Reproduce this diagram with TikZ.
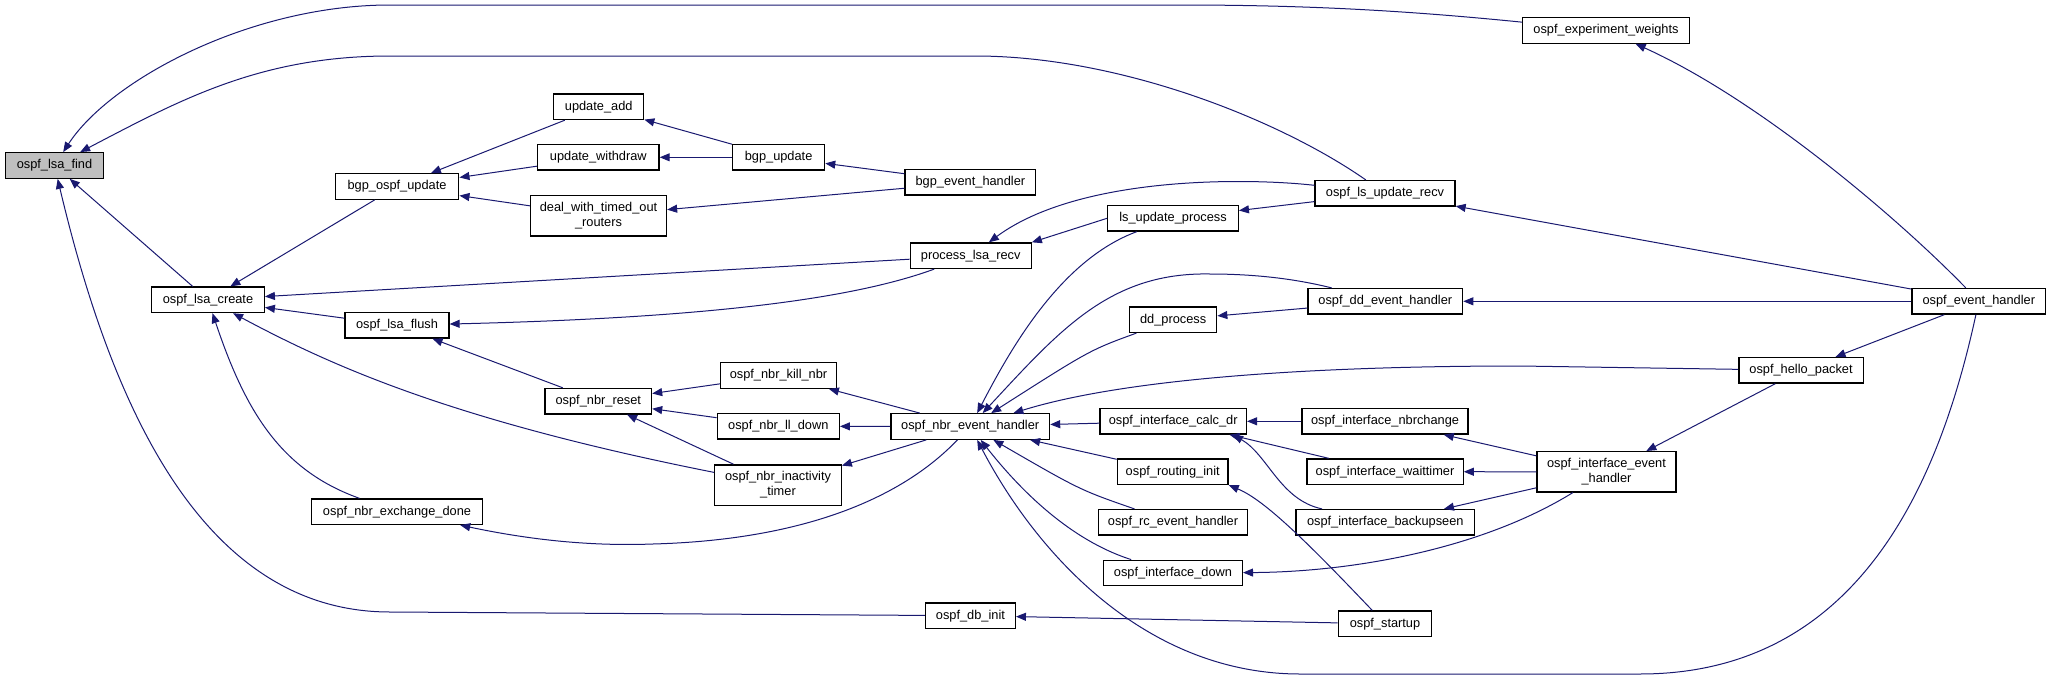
\documentclass[tikz,border=0pt]{standalone}
\usepackage{fontspec}
\setmainfont{Liberation Sans}
\usetikzlibrary{arrows.meta}
\definecolor{edgeblue}{HTML}{191970}
\definecolor{findgray}{HTML}{BFBFBF}
\begin{document}
\begin{tikzpicture}[x=1pt,y=-1pt,
  fn/.style={draw=black, line width=1.3pt, fill=white, inner sep=0pt, minimum height=25.5pt, align=center, font=\fontsize{12.8}{15}\selectfont},
  fn2/.style={fn, minimum height=40.3pt},
  call/.style={draw=edgeblue, line width=1pt, -{Triangle[length=10pt,width=8pt]}}]
\useasboundingbox (0,0) rectangle (2051,680);
% nodes
\node[fn, minimum width=98pt, fill=findgray] (find) at (54.5,165.5) {ospf\_lsa\_find};
\node[fn, minimum width=166.5pt] (expw) at (1606,30.5) {ospf\_experiment\_weights};
\node[fn, minimum width=140pt] (lsrecv) at (1385,193.3) {ospf\_ls\_update\_recv};
\node[fn, minimum width=90pt] (upadd) at (598.7,106.8) {update\_add};
\node[fn, minimum width=121.5pt] (upwd) at (598.3,157.3) {update\_withdraw};
\node[fn, minimum width=123.6pt] (bgpospf) at (397,186.5) {bgp\_ospf\_update};
\node[fn2, minimum width=136pt] (deal) at (598.5,215.8) {deal\_with\_timed\_out\\\_routers};
\node[fn, minimum width=92pt] (bgpupd) at (778.6,157.3) {bgp\_update};
\node[fn, minimum width=130.7pt] (bgpeh) at (970.4,182.3) {bgp\_event\_handler};
\node[fn, minimum width=130.6pt] (lsup) at (1173,218.3) {ls\_update\_process};
\node[fn, minimum width=121pt] (plr) at (970.7,255.7) {process\_lsa\_recv};
\node[fn, minimum width=112.5pt] (create) at (208,299.8) {ospf\_lsa\_create};
\node[fn, minimum width=104pt] (flush) at (397,325.3) {ospf\_lsa\_flush};
\node[fn, minimum width=87pt] (ddproc) at (1173.2,319.7) {dd\_process};
\node[fn, minimum width=154.7pt] (ddeh) at (1385.3,301.3) {ospf\_dd\_event\_handler};
\node[fn, minimum width=133.6pt] (ospfeh) at (1978.8,301.3) {ospf\_event\_handler};
\node[fn, minimum width=116pt] (kill) at (778.5,375.5) {ospf\_nbr\_kill\_nbr};
\node[fn, minimum width=106.5pt] (reset) at (598.3,401.2) {ospf\_nbr\_reset};
\node[fn, minimum width=122pt] (lldown) at (778.3,426.3) {ospf\_nbr\_ll\_down};
\node[fn, minimum width=158.7pt] (nbreh) at (970.2,426.5) {ospf\_nbr\_event\_handler};
\node[fn, minimum width=146.4pt] (calcdr) at (1173.2,421.3) {ospf\_interface\_calc\_dr};
\node[fn, minimum width=166pt] (nbrchg) at (1385,421.3) {ospf\_interface\_nbrchange};
\node[fn, minimum width=124.3pt] (hello) at (1801,370.3) {ospf\_hello\_packet};
\node[fn2, minimum width=126.5pt] (inact) at (778,485) {ospf\_nbr\_inactivity\\\_timer};
\node[fn, minimum width=110.7pt] (rinit) at (1172.7,471.8) {ospf\_routing\_init};
\node[fn, minimum width=156.3pt] (wait) at (1385,471.7) {ospf\_interface\_waittimer};
\node[fn2, minimum width=139pt] (ifeh) at (1606.5,471.8) {ospf\_interface\_event\\\_handler};
\node[fn, minimum width=149pt] (rc) at (1173,522.3) {ospf\_rc\_event\_handler};
\node[fn, minimum width=178.6pt] (backup) at (1385.3,522.3) {ospf\_interface\_backupseen};
\node[fn, minimum width=171pt] (exch) at (397,511.7) {ospf\_nbr\_exchange\_done};
\node[fn, minimum width=138.7pt] (down) at (1173,573) {ospf\_interface\_down};
\node[fn, minimum width=89.8pt] (dbinit) at (970.4,615.7) {ospf\_db\_init};
\node[fn, minimum width=93.3pt] (startup) at (1385,623.8) {ospf\_startup};
% edges
\draw[call] (expw) .. controls (1420,12) and (1320,5) .. (1180,5) -- (390,5) .. controls (250,5) and (110,80) .. (find);
\draw[call] (lsrecv) .. controls (1280,120) and (1120,56) .. (975,56) -- (390,56) .. controls (260,56) and (180,100) .. (find);
\draw[call] (create) -- (find);
\draw[call] (dbinit) -- (390,612) .. controls (200,612) and (110,400) .. (find);
\draw[call] (bgpospf) -- (create);
\draw[call] (upadd) -- (bgpospf);
\draw[call] (upwd) -- (bgpospf);
\draw[call] (deal) -- (bgpospf);
\draw[call] (bgpupd) -- (upadd);
\draw[call] (bgpupd) -- (upwd);
\draw[call] (bgpeh) -- (bgpupd);
\draw[call] (bgpeh) -- (deal);
\draw[call] (plr) -- (create);
\draw[call] (flush) -- (create);
\draw[call] (plr) .. controls (850,300) and (700,318) .. (flush);
\draw[call] (exch) .. controls (280,470) and (245,410) .. (create);
\draw[call] (inact) .. controls (450,420) and (330,365) .. (create);
\draw[call] (reset) -- (flush);
\draw[call] (kill) -- (reset);
\draw[call] (lldown) -- (reset);
\draw[call] (inact) -- (reset);
\draw[call] (nbreh) -- (kill);
\draw[call] (nbreh) -- (lldown);
\draw[call] (nbreh) -- (inact);
\draw[call] (nbreh) .. controls (900,500) and (800,540) .. (653,544) .. controls (600,546) and (540,542) .. (exch);
\draw[call] (lsup) .. controls (1060,260) and (1010,350) .. (nbreh);
\draw[call] (ddeh) .. controls (1300,280) and (1260,274) .. (1210,274) .. controls (1110,272) and (1060,330) .. (nbreh);
\draw[call] (ddproc) .. controls (1090,350) .. (nbreh);
\draw[call] (hello) -- (1520,366) .. controls (1300,366) and (1120,380) .. (nbreh);
\draw[call] (calcdr) -- (nbreh);
\draw[call] (rinit) -- (nbreh);
\draw[call] (rc) .. controls (1080,490) .. (nbreh);
\draw[call] (down) .. controls (1070,540) and (1020,490) .. (nbreh);
\draw[call] (ospfeh) .. controls (1940,480) and (1860,674) .. (1640,674) -- (1300,674) .. controls (1150,674) and (1040,560) .. (nbreh);
\draw[call] (lsrecv) -- (lsup);
\draw[call] (lsrecv) .. controls (1250,178) and (1080,175) .. (plr);
\draw[call] (lsup.west) -- (plr.north east);
\draw[call] (ddeh) -- (ddproc);
\draw[call] (ospfeh) -- (lsrecv);
\draw[call] (ospfeh) -- (ddeh);
\draw[call] (ospfeh) .. controls (1900,220) and (1760,100) .. (expw);
\draw[call] (ospfeh) -- (hello);
\draw[call] (hello) -- (ifeh);
\draw[call] (nbrchg) -- (calcdr);
\draw[call] (wait) -- (calcdr);
\draw[call] (backup) .. controls (1280,500) and (1268,455) .. ([xshift=-14pt]calcdr.south east);
\draw[call] (ifeh) -- (nbrchg);
\draw[call] (ifeh) -- (wait);
\draw[call] (ifeh) -- (backup);
\draw[call] (ifeh) .. controls (1480,550) and (1350,572) .. (down);
\draw[call] (startup) .. controls (1310,545) and (1265,500) .. (rinit.south east);
\draw[call] (startup) -- (dbinit);
\end{tikzpicture}
\end{document}
